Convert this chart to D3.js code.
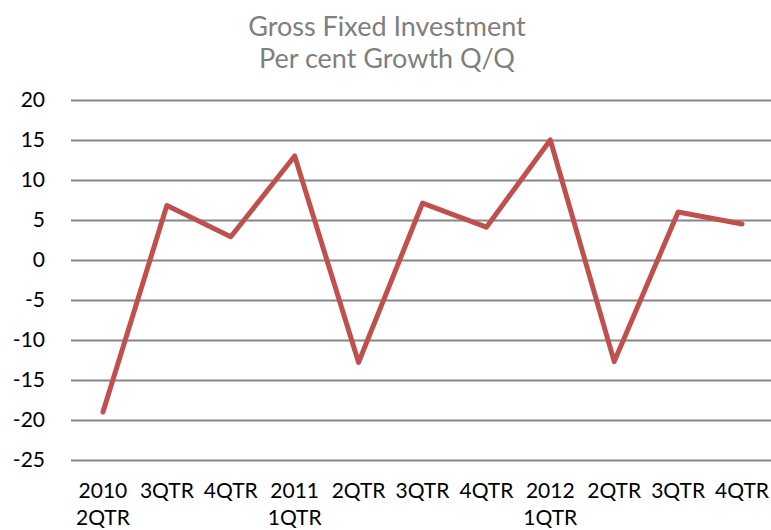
<!DOCTYPE html>
<html>
<head>
<meta charset="utf-8">
<script src="https://cdn.jsdelivr.net/npm/d3@7"></script>
<style>
  html, body { margin: 0; padding: 0; background: #fff; }
  svg { display: block; }
</style>
</head>
<body>
<svg id="chart" width="771" height="530"></svg>
<script>
// Quarter labels (year shown on the first quarter of each year / series start)
const quarterLabels = ["2QTR", "3QTR", "4QTR", "1QTR", "2QTR", "3QTR", "4QTR", "1QTR", "2QTR", "3QTR", "4QTR"];
const yearLabels    = ["2010", "", "", "2011", "", "", "", "2012", "", "", ""];
// Quarter-on-quarter growth of gross fixed investment, per cent
const growth = [-19.0, 6.8, 2.9, 13.0, -12.8, 7.1, 4.1, 15.0, -12.7, 6.0, 4.5];
const yTicks = [20, 15, 10, 5, 0, -5, -10, -15, -20, -25];
const titleLines = ["Gross Fixed Investment", "Per cent Growth Q/Q"];

const svg = d3.select("#chart");
const plot = { left: 71, right: 771, top: 100, bottom: 460 };

const categories = quarterLabels.map((q, i) => i);

const x = d3.scaleBand()
  .domain(categories)
  .range([plot.left, 774])
  .padding(0);

const y = d3.scaleLinear()
  .domain([-25, 20])
  .range([plot.bottom, plot.top]);

const font = "Lato, 'Open Sans', sans-serif";

// Horizontal gridlines with value labels (plain hyphen for negatives)
const yAxis = d3.axisLeft(y)
  .tickValues(yTicks)
  .tickSize(-(plot.right - plot.left))
  .tickPadding(26)
  .tickFormat(d => String(d));

const gy = svg.append("g")
  .attr("transform", `translate(${plot.left},0)`)
  .call(yAxis);
gy.select(".domain").remove();
gy.selectAll(".tick line")
  .attr("stroke", "#868686")
  .attr("stroke-width", 2);
gy.selectAll(".tick text")
  .attr("fill", "#000")
  .style("font-family", font)
  .style("font-size", "21px");

// Category labels under the plot, two lines each
const gx = svg.append("g");
const lbl = gx.selectAll("text")
  .data(categories)
  .join("text")
  .attr("text-anchor", "middle")
  .attr("fill", "#000")
  .style("font-family", font)
  .style("font-size", "21px");
lbl.append("tspan")
  .attr("x", d => x(d) + x.bandwidth() / 2)
  .attr("y", 498)
  .text(d => yearLabels[d] || quarterLabels[d]);
lbl.filter(d => yearLabels[d])
  .append("tspan")
  .attr("x", d => x(d) + x.bandwidth() / 2)
  .attr("y", 525)
  .text(d => quarterLabels[d]);

// Growth line
const line = d3.line()
  .x((d, i) => x(i) + x.bandwidth() / 2)
  .y(d => y(d));

svg.append("path")
  .datum(growth)
  .attr("d", line)
  .attr("fill", "none")
  .attr("stroke", "#c0504d")
  .attr("stroke-width", 5)
  .attr("stroke-linecap", "round")
  .attr("stroke-linejoin", "round");

// Title
const title = svg.append("text")
  .attr("text-anchor", "middle")
  .attr("fill", "#7f7f7f")
  .style("font-family", font)
  .style("font-size", "27px");
title.selectAll("tspan")
  .data(titleLines)
  .join("tspan")
  .attr("x", 387)
  .attr("y", (d, i) => 36 + i * 32)
  .text(d => d);
</script>
</body>
</html>
